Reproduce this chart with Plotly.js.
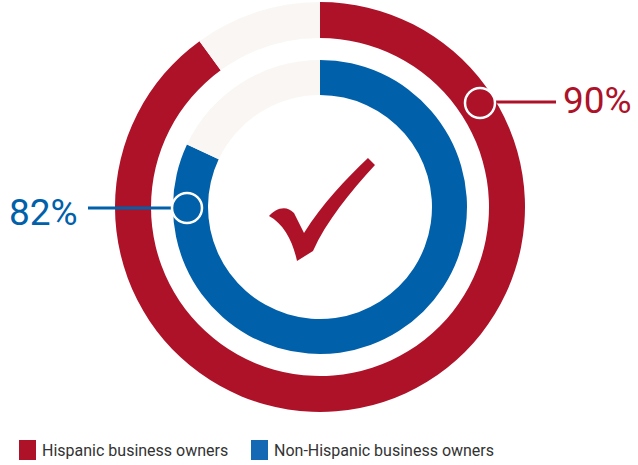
<!DOCTYPE html>
<html>
<head>
<meta charset="utf-8">
<script src="https://cdn.plot.ly/plotly-3.0.1.min.js"></script>
<style>
  html, body { margin: 0; padding: 0; background: #ffffff; }
  #chart { width: 638px; height: 465px; }
</style>
</head>
<body>
<div id="chart"></div>
<script>
// ---- data ----
const seriesNames = ["Hispanic business owners", "Non-Hispanic business owners"];
const seriesValues = [90, 82];
const valueLabels = ["90%", "82%"];

// ---- style ----
const W = 638, H = 465;
const RED = "#ad1229";
const BLUE = "#0060aa";
const BLUE_LEG = "#1568b4";
const BEIGE = "#faf6f3";
const TEXT = "#333333";
const FONT = "Roboto, 'Open Sans', sans-serif";

const CX = 320, CY = 207;
const rings = [
  { rOut: 205, rIn: 169, color: RED },
  { rOut: 147, rIn: 112, color: BLUE }
];

function px2paper(x, y) { return [x / W, 1 - y / H]; }

function domainFor(r) {
  return {
    x: [(CX - r) / W, (CX + r) / W],
    y: [(H - CY - r) / H, (H - CY + r) / H]
  };
}

const traces = seriesValues.map((v, i) => ({
  type: "pie",
  values: [v, 100 - v],
  labels: [seriesNames[i], "rest " + i],
  marker: { colors: [rings[i].color, BEIGE], line: { width: 0 } },
  hole: rings[i].rIn / rings[i].rOut,
  domain: domainFor(rings[i].rOut),
  sort: false,
  direction: "clockwise",
  rotation: 0,
  textinfo: "none",
  hoverinfo: "skip",
  showlegend: false
}));

// helper shapes in pixel space
function circle(x, y, r, fill) {
  const a = px2paper(x - r, y - r), b = px2paper(x + r, y + r);
  return { type: "circle", xref: "paper", yref: "paper",
    x0: a[0], x1: b[0], y0: b[1], y1: a[1],
    fillcolor: fill, line: { color: "#ffffff", width: 2.5 } };
}
function line(x0, y0, x1, y1, color) {
  const a = px2paper(x0, y0), b = px2paper(x1, y1);
  return { type: "line", xref: "paper", yref: "paper",
    x0: a[0], y0: a[1], x1: b[0], y1: b[1],
    line: { color: color, width: 3 } };
}
function rect(x0, y0, x1, y1, color) {
  const a = px2paper(x0, y0), b = px2paper(x1, y1);
  return { type: "rect", xref: "paper", yref: "paper",
    x0: a[0], y0: b[1], x1: b[0], y1: a[1],
    fillcolor: color, line: { width: 0 } };
}
function pathFrom(cmds) {
  return cmds.map(c => {
    const op = c[0];
    const pts = [];
    for (let k = 1; k < c.length; k += 2) {
      const p = px2paper(c[k], c[k + 1]);
      pts.push(p[0].toFixed(5) + "," + p[1].toFixed(5));
    }
    return op + " " + pts.join(" ");
  }).join(" ") + " Z";
}

const checkPath = pathFrom([
  ["M", 269, 216],
  ["C", 275, 209, 286, 204, 294, 213],
  ["L", 304, 233],
  ["C", 322, 204, 346, 179, 368, 158],
  ["L", 375, 165],
  ["C", 350, 192, 326, 222, 313, 251],
  ["L", 297, 261],
  ["C", 293, 242, 284, 224, 269, 216]
]);

const shapes = [
  line(480, 102, 556, 102, RED),
  circle(480, 103, 15, RED),
  line(88, 208, 187, 208, BLUE),
  circle(187, 208, 15, BLUE),
  { type: "path", xref: "paper", yref: "paper", path: checkPath,
    fillcolor: RED, line: { width: 0 } },
  rect(19, 440, 36, 460, RED),
  rect(251, 440, 268, 460, BLUE_LEG)
];

function ann(x, y, text, color, size, anchor) {
  const p = px2paper(x, y);
  return { xref: "paper", yref: "paper", x: p[0], y: p[1], text: text,
    showarrow: false, xanchor: anchor, yanchor: "middle",
    font: { family: FONT, size: size, color: color } };
}

const annotations = [
  ann(561, 101, valueLabels[0], RED, 37, "left"),
  ann(80, 212, valueLabels[1], BLUE, 37, "right"),
  ann(40, 450, seriesNames[0], TEXT, 16, "left"),
  ann(272, 450, seriesNames[1], TEXT, 16, "left")
];

const layout = {
  width: W, height: H,
  margin: { l: 0, r: 0, t: 0, b: 0 },
  paper_bgcolor: "#ffffff",
  plot_bgcolor: "#ffffff",
  showlegend: false,
  shapes: shapes,
  annotations: annotations
};

Plotly.newPlot("chart", traces, layout, { displayModeBar: false, staticPlot: true });
</script>
</body>
</html>
